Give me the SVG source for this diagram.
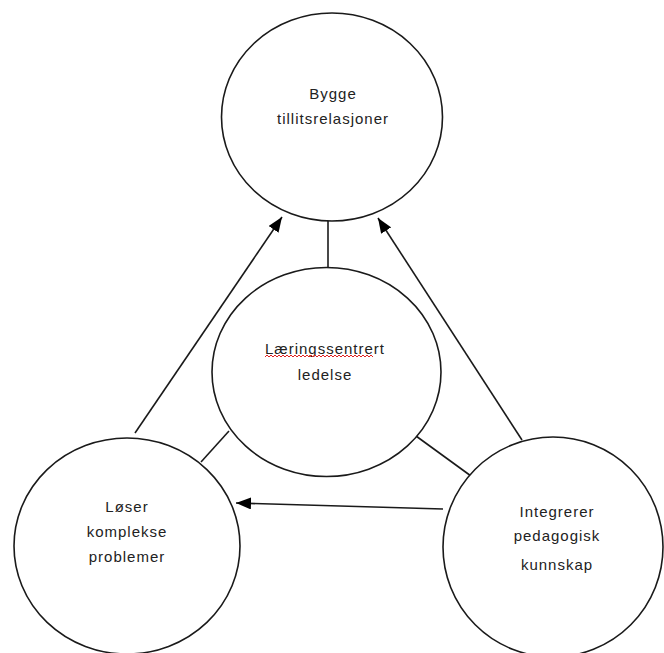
<svg xmlns="http://www.w3.org/2000/svg" width="664" height="653" viewBox="0 0 664 653">
<style>
.node{fill:#fff;stroke:#1a1a1a;stroke-width:1.6}
.lbl{font-family:"Liberation Sans",Arial,sans-serif;font-size:15px;letter-spacing:1px;fill:#222;text-anchor:middle}
.conn{stroke:#1a1a1a;stroke-width:1.6;fill:none}
.arr{marker-end:url(#ah)}
</style>
<defs>
<marker id="ah" markerUnits="userSpaceOnUse" markerWidth="15" markerHeight="12" viewBox="0 0 15 12" refX="15" refY="6" orient="auto">
<path d="M0,0 L15,6 L0,12 z" fill="#000"/>
</marker>
</defs>
<rect width="664" height="653" fill="#fff"/>
<g id="connectors">
<line class="conn" x1="328" y1="221" x2="328" y2="268"/>
<line class="conn" x1="229" y1="431" x2="201" y2="462"/>
<line class="conn" x1="416" y1="436" x2="471" y2="476"/>
<line class="conn arr" x1="135" y1="433" x2="282" y2="217"/>
<line class="conn arr" x1="522" y1="440" x2="378" y2="218"/>
<line class="conn arr" x1="443" y1="509" x2="236" y2="503"/>
</g>
<g id="node-top">
<ellipse class="node" cx="332" cy="117" rx="110.5" ry="104"/>
<text class="lbl" x="333" y="99">Bygge</text>
<text class="lbl" x="333" y="124">tillitsrelasjoner</text>
</g>
<g id="node-center">
<ellipse class="node" cx="326.5" cy="372" rx="114.5" ry="104.5"/>
<text class="lbl" x="325" y="354">Læringssentrert</text>
<path d="M265 357 l2 -2 2 2 2 -2 2 2 2 -2 2 2 2 -2 2 2 2 -2 2 2 2 -2 2 2 2 -2 2 2 2 -2 2 2 2 -2 2 2 2 -2 2 2 2 -2 2 2 2 -2 2 2 2 -2 2 2 2 -2 2 2 2 -2 2 2 2 -2 2 2 2 -2 2 2 2 -2 2 2 2 -2 2 2 2 -2 2 2 2 -2 2 2 2 -2 2 2 2 -2 2 2 2 -2 2 2 2 -2 2 2 2 -2 2 2 2 -2 2 2" fill="none" stroke="#e02020" stroke-width="1"/>
<text class="lbl" x="325" y="380">ledelse</text>
</g>
<g id="node-left">
<ellipse class="node" cx="127" cy="546" rx="113" ry="108"/>
<text class="lbl" x="127" y="512">Løser</text>
<text class="lbl" x="127" y="537">komplekse</text>
<text class="lbl" x="127" y="562">problemer</text>
</g>
<g id="node-right">
<ellipse class="node" cx="553" cy="547" rx="110" ry="110"/>
<text class="lbl" x="557" y="517">Integrerer</text>
<text class="lbl" x="557" y="541">pedagogisk</text>
<text class="lbl" x="557" y="570">kunnskap</text>
</g>
</svg>
